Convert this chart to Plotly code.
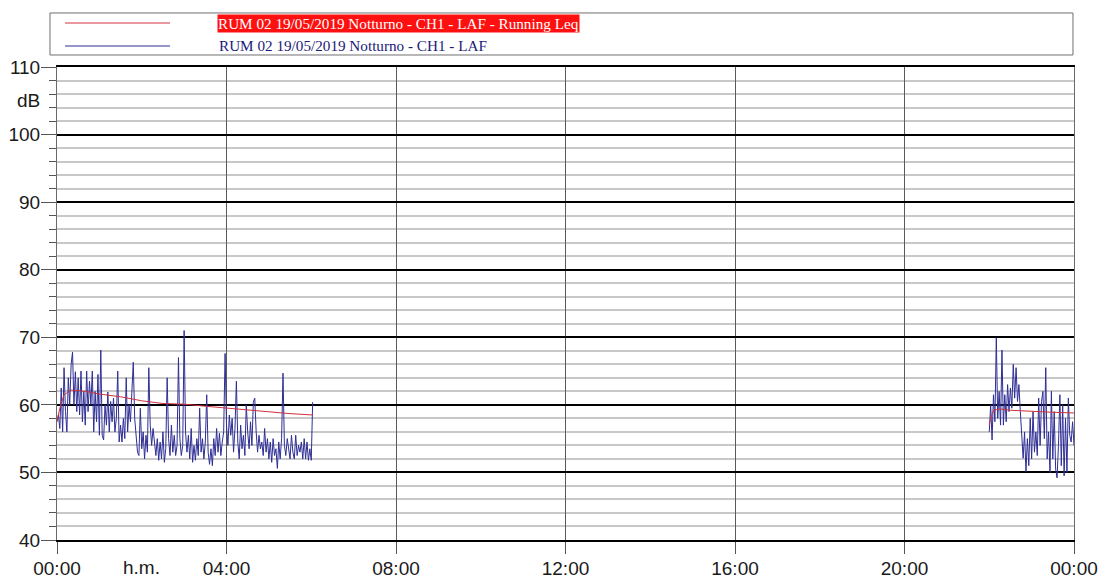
import pandas as pd
import plotly.graph_objects as go

# LAF readings, 2-minute samples, night session start (00:00 -> 06:02)
laf_night_start = [
    57.5, 58.5, 56.5, 62.5, 56.0, 65.5, 59.0, 56.0, 64.0, 60.0,
    66.0, 67.8, 60.0, 64.9, 59.0, 64.0, 58.5, 65.0, 57.5, 62.0,
    57.0, 65.0, 59.0, 63.5, 60.0, 65.0, 56.0, 62.0, 57.5, 64.5,
    55.5, 68.1, 55.5, 54.8, 60.0, 57.0, 61.9, 56.0, 60.5, 57.5,
    61.0, 56.0, 58.0, 65.0, 54.5, 57.0, 54.5, 58.0, 55.0, 64.0,
    56.0, 60.0, 57.5, 62.0, 66.3, 58.0, 55.0, 53.0, 52.5, 59.5,
    53.5, 56.0, 52.0, 55.5, 53.0, 65.5, 57.0, 54.0, 56.5, 54.0,
    52.5, 55.0, 51.8, 54.5, 52.0, 56.0, 51.5, 53.5, 64.0, 55.0,
    52.5, 57.0, 53.0, 55.5, 52.5, 54.0, 67.0, 55.0, 52.5, 54.0,
    71.0, 56.0, 53.0, 55.5, 52.0, 56.5, 51.5, 54.0, 51.8, 55.0,
    52.5, 59.5, 53.0, 55.0, 52.0, 54.5, 61.5, 53.0, 51.2, 53.5,
    51.0, 55.0, 52.5, 56.5, 53.0, 55.8, 52.5, 54.5, 56.0, 67.6,
    57.0, 54.0, 58.5, 55.5, 58.0, 53.0, 56.5, 63.5, 54.5, 52.0,
    57.0, 53.5, 55.5, 52.5, 60.0, 56.0, 53.5, 57.5, 54.0, 60.4,
    61.0, 56.0, 53.0, 55.5, 53.5, 54.5, 52.5, 56.5, 53.0, 55.0,
    52.0, 54.5, 51.5, 55.0, 52.5, 53.5, 50.6, 54.5, 52.0, 55.0,
    64.7, 54.0, 52.5, 55.0, 53.0, 52.0, 55.5, 53.0, 52.0, 55.5,
    52.5, 54.0, 53.0, 54.5, 52.0, 55.0, 52.0, 54.5, 51.8, 53.5,
    51.8, 60.4,
]

# LAF readings, 2-minute samples, night session end (22:00 -> 24:00)
laf_night_end = [
    56.0, 60.0, 54.8, 61.5, 57.5, 69.9, 58.0, 62.0, 57.0, 68.1,
    57.0, 61.5, 57.5, 63.0, 59.0, 62.5, 59.5, 66.0, 61.0, 65.5,
    60.5, 63.0, 59.0, 55.0, 52.1, 56.0, 50.1, 55.0, 51.0, 58.0,
    52.0, 59.0, 53.0, 56.0, 52.5, 61.0, 54.0, 60.5, 62.0, 55.0,
    65.5, 52.0, 56.0, 50.0, 62.0, 52.0, 59.0, 50.5, 49.2, 54.0,
    61.5, 51.0, 60.0, 49.5, 58.0, 50.0, 61.0, 55.5, 54.5, 57.5,
    54.0,
]

# Running Leq, minutes after each session start
leq_start_min = [0, 4, 10, 20, 40, 60, 90, 120, 150, 180, 210, 240, 270, 300, 330, 362]
leq_start_db = [57.5, 59.5, 61.5, 62.2, 62.0, 61.6, 61.2, 60.6, 60.2, 60.1, 59.8, 59.5, 59.2, 58.9, 58.7, 58.5]
leq_end_min = [0, 2, 6, 15, 30, 60, 90, 120]
leq_end_db = [57.0, 58.0, 59.2, 59.4, 59.2, 59.0, 58.9, 58.8]

y_ticks = [40, 50, 60, 70, 80, 90, 100, 110]
x_tick_hours = [0, 4, 8, 12, 16, 20, 24]

day = pd.Timestamp("2019-05-19 00:00")
late = pd.Timestamp("2019-05-19 22:00")
t_start = pd.date_range(day, periods=len(laf_night_start), freq="2min")
t_end = pd.date_range(late, periods=len(laf_night_end), freq="2min")
leq_t_start = [day + pd.Timedelta(minutes=m) for m in leq_start_min]
leq_t_end = [late + pd.Timedelta(minutes=m) for m in leq_end_min]

BLUE = "#2e2e96"
RED = "#d0303c"

# gap between sessions is left open by a None break
laf_x = list(t_start) + [None] + list(t_end)
laf_y = laf_night_start + [None] + laf_night_end
leq_x = leq_t_start + [None] + leq_t_end
leq_y = leq_start_db + [None] + leq_end_db

fig = go.Figure()
fig.add_trace(go.Scatter(x=laf_x, y=laf_y, mode="lines",
                         line=dict(color=BLUE, width=1), connectgaps=False,
                         showlegend=False, hoverinfo="skip"))
fig.add_trace(go.Scatter(x=leq_x, y=leq_y, mode="lines",
                         line=dict(color=RED, width=1), connectgaps=False,
                         showlegend=False, hoverinfo="skip"))

tickfont = dict(family="Liberation Sans, Arial, sans-serif", size=19, color="#1a1a1a")

fig.update_xaxes(
    type="date",
    range=[day, day + pd.Timedelta(hours=24)],
    tickmode="array",
    tickvals=[day + pd.Timedelta(hours=h) for h in x_tick_hours],
    ticktext=[f"{h % 24:02d}:00" for h in x_tick_hours],
    ticks="outside", ticklen=12, tickcolor="#555555", tickwidth=1,
    ticklabelstandoff=-2,
    showgrid=True, gridcolor="#5a5a5a", gridwidth=1,
    showline=True, linecolor="#000000", linewidth=2, mirror=True,
    zeroline=False, tickfont=tickfont, automargin=False,
)
fig.update_yaxes(
    range=[40, 110],
    tickmode="array", tickvals=y_ticks,
    ticks="outside", ticklen=15, tickcolor="#555555", tickwidth=1,
    ticklabelstandoff=-3,
    showgrid=True, gridcolor="#000000", gridwidth=2,
    minor=dict(dtick=2, tick0=40, ticks="outside", ticklen=7, tickcolor="#555555",
               showgrid=True, gridcolor="#c8c8c8", gridwidth=1.5),
    showline=True, linecolor="#6a6a6a", linewidth=1, mirror=True,
    zeroline=False, tickfont=tickfont, automargin=False,
)

# unit labels
fig.add_annotation(x=0, xref="paper", xanchor="right", xshift=-15, y=105, yref="y",
                   text="dB", showarrow=False, font=tickfont)
fig.add_annotation(x=day + pd.Timedelta(hours=2), xref="x",
                   y=0, yref="paper", yanchor="top", yshift=-15,
                   text="h.m.", showarrow=False, font=tickfont)

# legend panel drawn above the plot area
serif = "Liberation Serif, Times New Roman, serif"
fig.add_shape(type="rect", xref="paper", yref="paper",
              x0=-0.0069, x1=0.9990, y0=1.0254, y1=1.1142,
              line=dict(color="#707070", width=1), fillcolor="white")
fig.add_shape(type="line", xref="paper", yref="paper",
              x0=0.0079, x1=0.1111, y0=1.0930, y1=1.0930,
              line=dict(color=RED, width=1))
fig.add_shape(type="line", xref="paper", yref="paper",
              x0=0.0079, x1=0.1111, y0=1.0444, y1=1.0444,
              line=dict(color=BLUE, width=1))
fig.add_annotation(xref="paper", yref="paper", x=0.1574, y=1.0930,
                   xanchor="left", yanchor="middle", showarrow=False,
                   text="RUM 02 19/05/2019 Notturno - CH1 - LAF - Running Leq",
                   font=dict(family=serif, size=15.2, color="white"),
                   bgcolor="#ff1010", borderpad=0)
fig.add_annotation(xref="paper", yref="paper", x=0.1574, y=1.0444,
                   xanchor="left", yanchor="middle", showarrow=False,
                   text="RUM 02 19/05/2019 Notturno - CH1 - LAF",
                   font=dict(family=serif, size=15.2, color="#1a1a7a"))

fig.update_layout(
    width=1105, height=586,
    margin=dict(l=57, r=31, t=67, b=46, autoexpand=False),
    paper_bgcolor="white", plot_bgcolor="white",
    showlegend=False,
)

fig.write_html("out.html")
